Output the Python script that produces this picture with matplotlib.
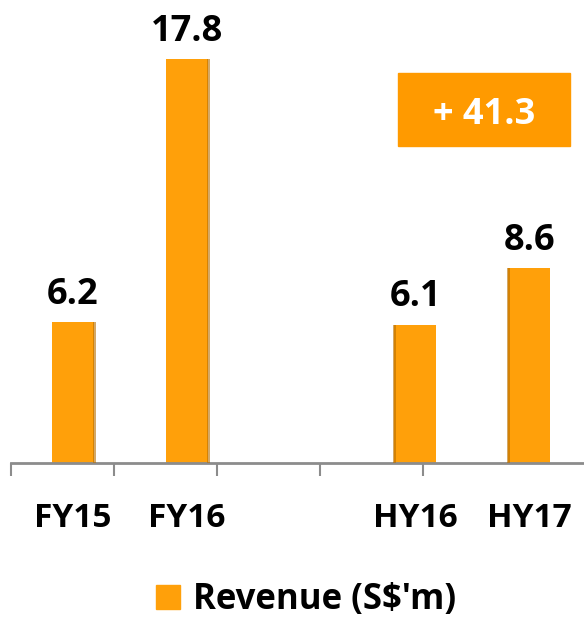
import matplotlib
matplotlib.use("Agg")
import matplotlib.pyplot as plt
from matplotlib.patches import Patch
from matplotlib.transforms import blended_transform_factory
import numpy as np

categories = ["FY15", "FY16", "", "HY16", "HY17"]
revenue = [6.2, 17.8, None, 6.1, 8.6]
growth_label = "+ 41.3"
legend_label = "Revenue (S$'m)"

BAR = "#FFA00A"
SHADE = "#B86E00"
BOX = "#FF9A00"
AXIS = "#8C8C8C"

plt.rcParams["font.family"] = ["Open Sans", "DejaVu Sans"]

fig = plt.figure(figsize=(5.84, 6.19), dpi=100)
ax = fig.add_axes([11 / 584, 156 / 619, 1 - 11 / 584, 463 / 619])

x = np.arange(len(categories))
width = 0.37

for xi, h in zip(x, revenue):
    if h is None:
        continue
    ax.bar(xi, h, width=width, color=BAR, zorder=2)
    # thin darker edge for the slight 3D look
    side = 1 if xi < 2 else -1
    ax.bar(xi + side * width / 2, h, width=0.025, color=SHADE, alpha=0.6, zorder=3)
    ax.annotate(f"{h:.1f}", (xi, h), textcoords="offset points", xytext=(0, 13),
                ha="center", va="baseline", fontsize=26, fontweight="bold", color="black")

ax.set_xlim(-0.544, 4.48)
ax.set_ylim(0, 20.4)

# category labels under the axis
trans = blended_transform_factory(ax.transData, ax.transAxes)
for xi, lab in zip(x, categories):
    ax.text(xi, -64 / 463, lab, transform=trans, ha="center", va="baseline",
            fontsize=24, fontweight="bold", color="black")

ax.set_xticks(-0.544 + 0.904 * np.arange(5))
ax.set_xticklabels([])
ax.tick_params(axis="x", length=9, width=1.5, color=AXIS)
ax.set_yticks([])

for s in ["top", "right", "left"]:
    ax.spines[s].set_visible(False)
ax.spines["bottom"].set_color(AXIS)
ax.spines["bottom"].set_linewidth(2)

fig.patches.append(plt.Rectangle((398 / 584, 1 - 146 / 619), 172 / 584, 73 / 619,
                                 transform=fig.transFigure, color=BOX, zorder=0))
fig.text(484 / 584, 1 - 124 / 619, growth_label, ha="center", va="baseline",
         fontsize=26, fontweight="bold", color="white")

fig.legend(handles=[Patch(color=BAR, label=legend_label)], loc="center",
           bbox_to_anchor=(0.524, 1 - 600 / 619), frameon=False,
           prop={"size": 25, "weight": "bold"}, handlelength=0.7, handleheight=0.7,
           handletextpad=0.37)

fig.savefig("out.png", dpi=100)
